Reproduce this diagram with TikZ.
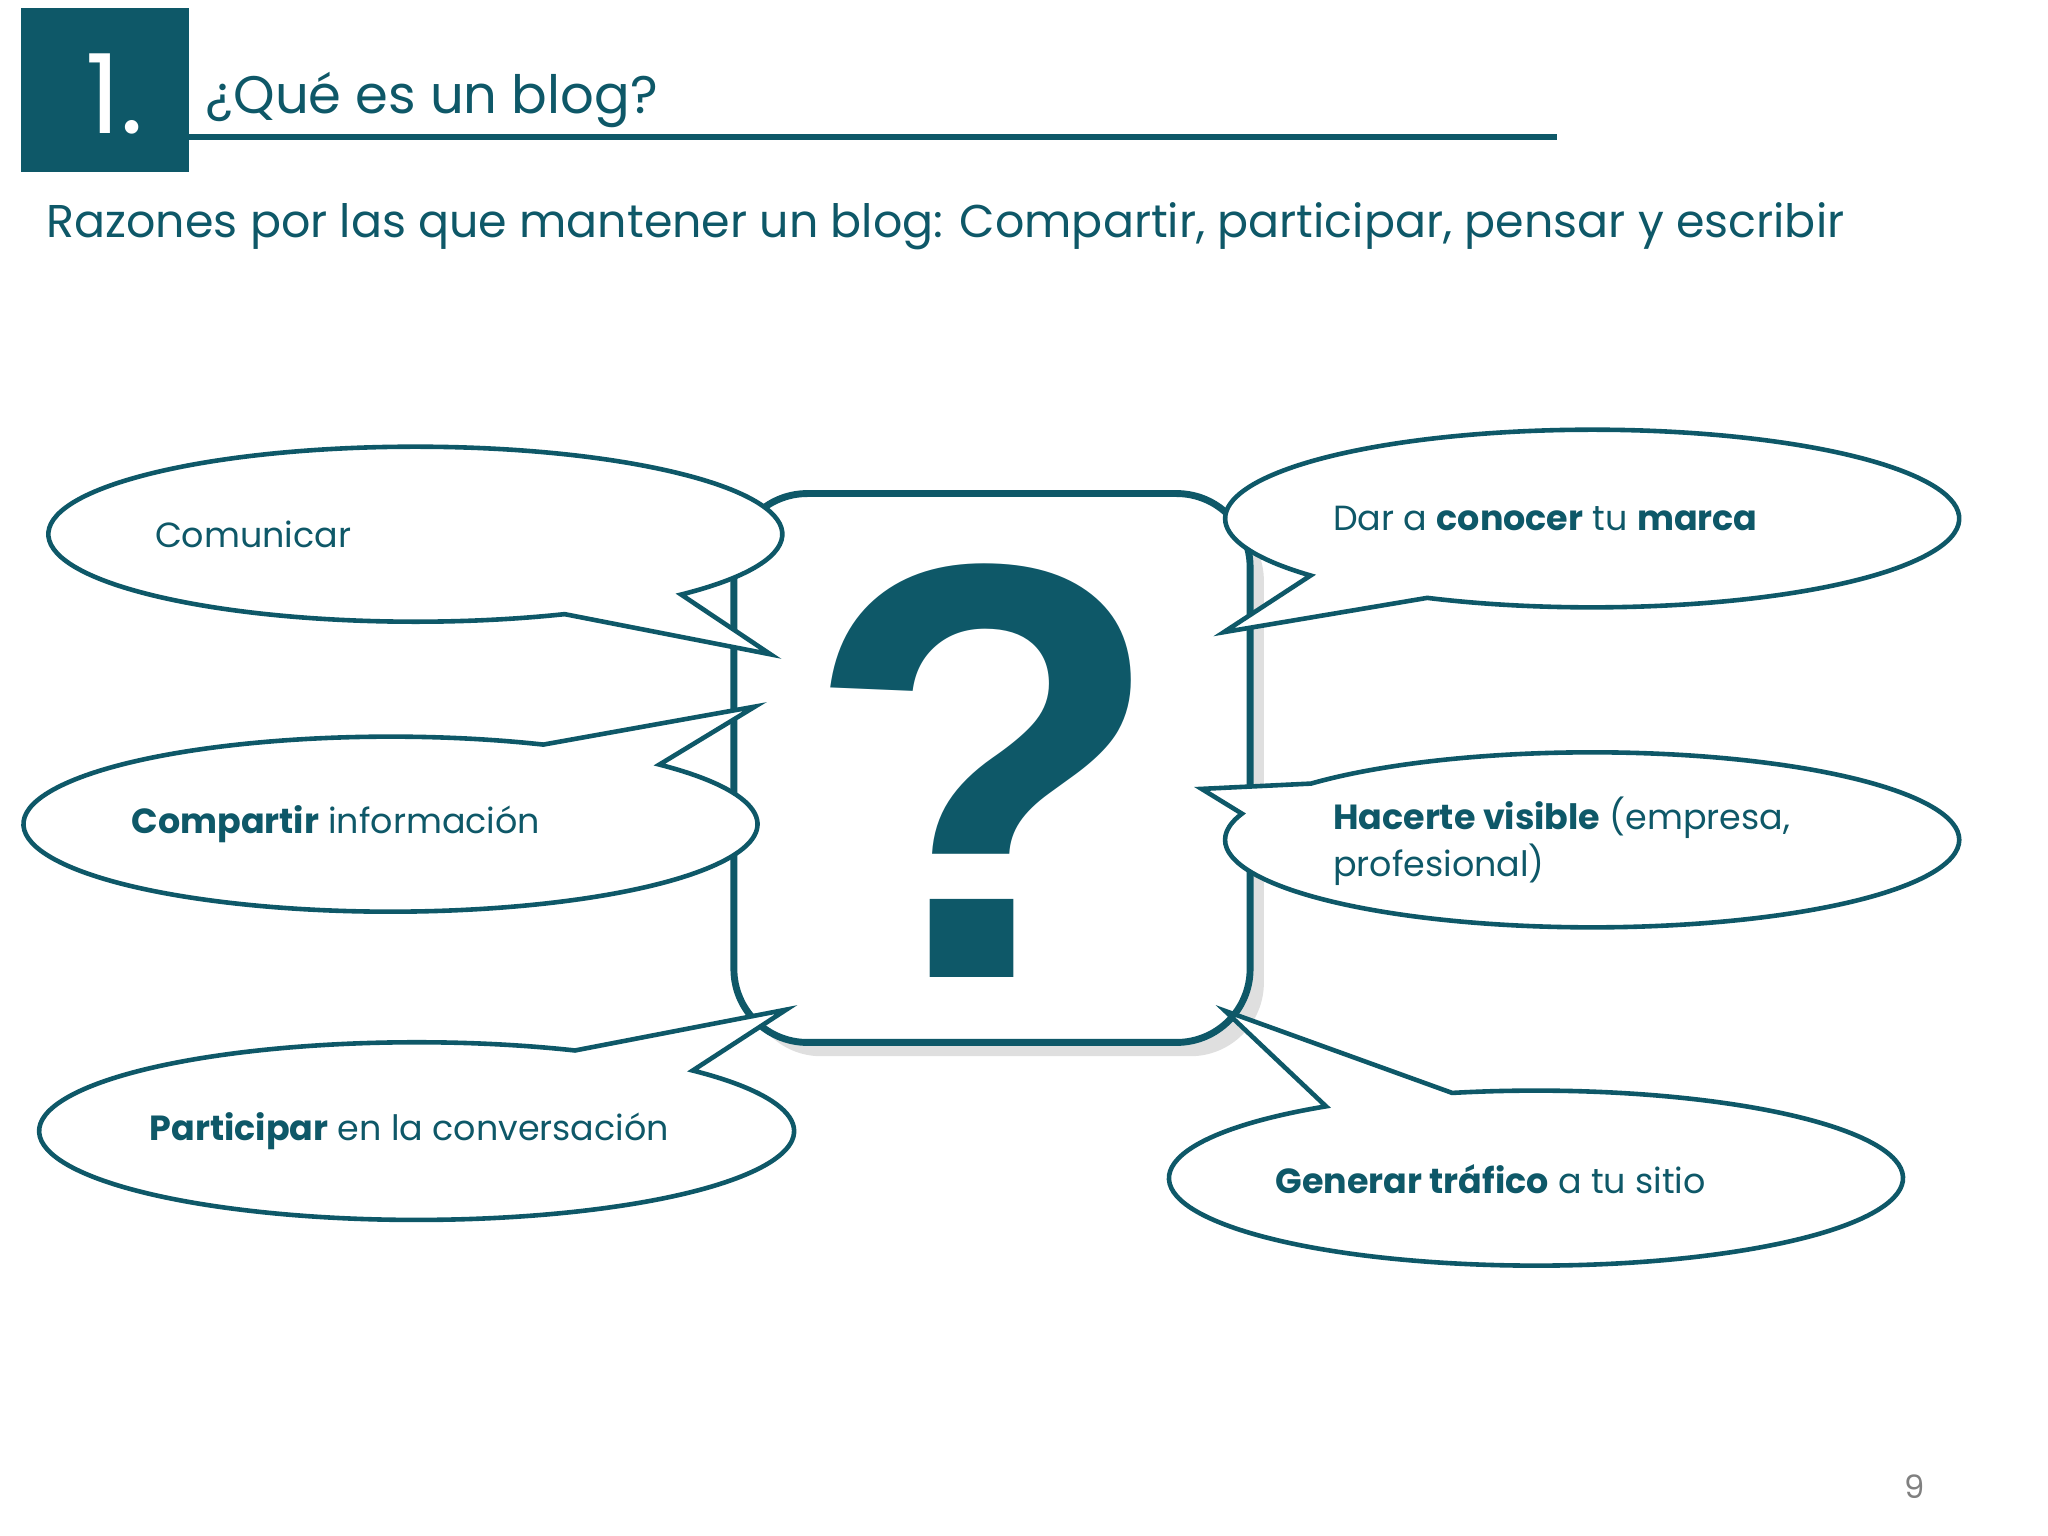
\documentclass[tikz,border=0pt]{standalone}
\usepackage{fontspec}
\setmainfont{Poppins}
\newfontfamily\qfont{Liberation Sans}
\usetikzlibrary{shadows}
\definecolor{teal}{HTML}{0E5868}
\tikzset{callout/.style={draw=teal,line width=1pt,fill=white},
 ctext/.style={anchor=west,inner sep=0pt,text=teal,font=\fontsize{7.6}{10.3}\selectfont,align=left}}
\newcommand{\mycallout}[8]{%
 \draw[callout] (#1,-#2) ++(#5:#3 and #4) arc[start angle=#5,end angle=#6,x radius=#3,y radius=#4] -- (#7,-#8) -- cycle;}
\begin{document}
\begin{tikzpicture}[x=0.01cm,y=0.01cm]
\useasboundingbox (0,0) rectangle (1568,-1176);
\fill[white] (0,0) rectangle (1568,-1176);
% header
\fill[teal] (16,-6) rectangle (145,-132);
\node[text=white,font=\fontsize{24}{24}\selectfont\mdseries] (num) at (88,-72) {1.};
\draw[teal,line width=1.3pt] (145,-105) -- (1192,-105);
\node[anchor=base west,inner sep=0pt,text=teal,font=\fontsize{11.5}{14}\selectfont] (title) at (157,-87) {¿Qué es un blog?};
\node[anchor=base west,inner sep=0pt,text=teal,font=\fontsize{10}{13}\selectfont] (sub) at (35,-182) {Razones por las que mantener un blog: Compartir, participar, pensar y escribir};
% central box
\node[draw=teal,line width=1.5pt,fill=white,rounded corners=16pt,minimum width=3.95cm,minimum height=4.2cm,drop shadow={opacity=0.25,shadow xshift=3pt,shadow yshift=-3pt}] (box) at (759.5,-588) {};
\node[text=teal,font=\fontsize{129}{129}\selectfont\qfont\bfseries] (q) at (754,-590) {?};
% callouts
\mycallout{318}{409}{281}{67}{-43.6}{294}{590}{501}
\node[ctext] (c1) at (118,-409) {Comunicar};
\mycallout{299}{631}{281}{67}{65.4}{402.9}{578}{541}
\node[ctext] (c2) at (100,-631) {\textbf{Compartir} información};
\mycallout{319}{866}{289}{68}{65.2}{403}{602}{773}
\node[ctext] (c3) at (114,-866) {\textbf{Participar} en la conversación};
\mycallout{1219}{397}{281}{68}{243.3}{579.9}{937}{484}
\node[ctext] (c4) at (1020,-397) {Dar a \textbf{conocer} tu \textbf{marca}};
\mycallout{1219}{643}{281}{67}{162.6}{500}{920}{604}
\node[ctext] (c5) at (1020,-644) {\textbf{Hacerte visible} (empresa,\\profesional)};
\mycallout{1176}{902}{281}{67}{124.9}{463.2}{938}{774}
\node[ctext] (c6) at (976,-903) {\textbf{Generar tráfico} a tu sitio};
\node[text=gray,font=\fontsize{7}{8}\selectfont] (pg) at (1466,-1138) {9};
\end{tikzpicture}
\end{document}
